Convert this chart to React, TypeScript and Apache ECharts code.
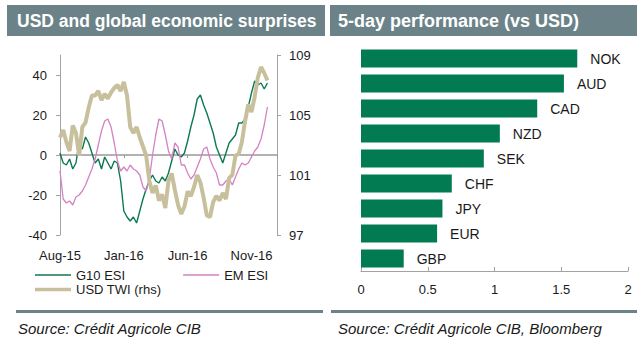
import React, { useEffect, useRef } from "react";
import * as echarts from "echarts";

const FONT = "'Liberation Sans', Arial, Helvetica, sans-serif";

// Left chart: weekly observations (0.25 month steps) starting Aug-2015
const STEP_MONTHS = 0.25;
const xTickLabels: Record<number, string> = { 0: "Aug-15", 5: "Jan-16", 10: "Jun-16", 15: "Nov-16" };

const g10Esi = [
  1, -4, -5, -2, -7, -4, 6, 3, 9, 6, 1, -4, -2, -7, -1, -4, -7, -3, -4, -13,
  -28, -31, -33, -31, -34, -28, -22, -17, -13, -10, -13, -14, -11, -13, -9, -3, 3, 0, -1, 1,
  7, 14, 20, 28, 30, 25, 21, 16, 11, 4, 0, -4, 1, 6, 8, 10, 16, 16, 18, 24,
  31, 37, 35, 36, 33, 36,
];

const emEsi = [
  -8, -22, -24, -23, -25, -21, -20, -18, -15, -11, -7, -2, 5, 12, 17, 18, 14, 6, -3, -8,
  -6, -8, -5, -7, -8, -10, -16, -18, -12, 0, 10, 18, 17, 10, 2, -2, 6, 4, -5, -5,
  -9, -12, -10, -6, -2, 3, 4, -2, -6, -9, -15, -15, -13, -12, -15, -11, -7, -4, -5, -4,
  -1, 2, 4, 8, 15, 24,
];

const usdTwi = [
  103.5, 104.0, 103.2, 102.6, 104.3, 103.8, 102.3, 104.2, 104.5, 105.5, 106.3, 106.3, 106.6, 106.0, 106.4, 106.1, 106.5, 106.8, 107.0, 106.6,
  107.2, 106.3, 104.2, 103.8, 104.2, 103.5, 102.9, 102.3, 100.6, 99.8, 100.3, 99.3, 99.7, 98.8, 100.6, 101.1, 100.0, 99.0, 98.4, 98.9,
  99.9, 99.6, 100.2, 101.0, 100.5, 99.5, 98.3, 98.2, 99.2, 99.6, 99.3, 99.8, 99.4, 100.8, 101.0, 102.3, 102.4, 103.2, 104.6, 105.7,
  105.2, 106.2, 107.5, 108.2, 107.8, 107.3,
];

// Right chart
const currencies = ["NOK", "AUD", "CAD", "NZD", "SEK", "CHF", "JPY", "EUR", "GBP"];
const perf5d = [1.62, 1.52, 1.32, 1.04, 0.92, 0.68, 0.61, 0.57, 0.32];

const toXY = (arr: number[]) => arr.map((v, i) => [i * STEP_MONTHS, v]);

const BAR_BG = "#6b8388";
const AXIS = "#a3a3a3";
const TXT = "#1a1a1a";
const GREEN = "#0b7a50";
const PINK = "#d482c4";
const TAN = "#c8c09c";

export default function App() {
  const ref = useRef<HTMLDivElement>(null);
  useEffect(() => {
    document.body.style.margin = "0";
    const chart = echarts.init(ref.current!, undefined, { renderer: "svg" });
    const option: any = {
      animation: false,
      textStyle: { fontFamily: FONT },
      graphic: [
        { type: "rect", shape: { x: 7, y: 5, width: 318, height: 31 }, style: { fill: BAR_BG } },
        { type: "rect", shape: { x: 330, y: 5, width: 307, height: 31 }, style: { fill: BAR_BG } },
        { type: "text", x: 17, y: 21, style: { text: "USD and global economic surprises", fill: "#fff", font: `bold 17.5px ${FONT}`, textVerticalAlign: "middle" } },
        { type: "text", x: 338, y: 21, style: { text: "5-day performance (vs USD)", fill: "#fff", font: `bold 18px ${FONT}`, textVerticalAlign: "middle" } },
        { type: "rect", shape: { x: 16, y: 310, width: 307, height: 3 }, style: { fill: BAR_BG } },
        { type: "rect", shape: { x: 331, y: 310, width: 306, height: 3 }, style: { fill: BAR_BG } },
        { type: "text", x: 18, y: 328, style: { text: "Source: Crédit Agricole CIB", fill: TXT, font: `italic 15px ${FONT}`, textVerticalAlign: "middle" } },
        { type: "text", x: 338, y: 328, style: { text: "Source: Crédit Agricole CIB, Bloomberg", fill: TXT, font: `italic 15px ${FONT}`, textVerticalAlign: "middle" } },
      ],
      legend: [
        {
          left: 35, top: 268.5, itemWidth: 36, itemHeight: 1.5, itemGap: 58, padding: 0,
          icon: "rect",
          textStyle: { fontSize: 13, lineHeight: 13, color: TXT, fontFamily: FONT },
          data: ["G10 ESI", "EM ESI"],
        },
        {
          left: 35, top: 283, itemWidth: 36, itemHeight: 3.5, padding: 0,
          icon: "rect",
          textStyle: { fontSize: 13, lineHeight: 13, color: TXT, fontFamily: FONT },
          data: ["USD TWI (rhs)"],
        },
      ],
      grid: [
        { left: 60, top: 55, width: 217, height: 180 },
        { left: 361, top: 46, width: 267, height: 225 },
      ],
      xAxis: [
        {
          gridIndex: 0, type: "value", min: 0, max: 17, interval: 5, position: "bottom",
          axisLine: { show: true, onZero: true, onZeroAxisIndex: 0, lineStyle: { color: "#999", width: 1.5 } },
          axisTick: { show: true, length: 3, lineStyle: { color: "#999" } },
          axisLabel: { show: false }, splitLine: { show: false },
        },
        {
          gridIndex: 0, type: "value", min: 0, max: 17, interval: 5, position: "bottom",
          axisLine: { show: false, onZero: false }, axisTick: { show: false }, splitLine: { show: false },
          axisLabel: {
            margin: 14, fontSize: 13, color: TXT, showMaxLabel: false,
            formatter: (v: number) => xTickLabels[v] ?? "",
          },
        },
        {
          gridIndex: 1, type: "value", min: 0, max: 2, interval: 0.5,
          axisLine: { show: true, lineStyle: { color: AXIS, width: 1 } },
          axisTick: { show: true, inside: true, length: 4, lineStyle: { color: AXIS } },
          axisLabel: { margin: 12, fontSize: 13, color: TXT },
          splitLine: { show: false },
        },
      ],
      yAxis: [
        {
          gridIndex: 0, type: "value", min: -40, max: 50, interval: 20, position: "left",
          axisLine: { show: true, onZero: false, lineStyle: { color: AXIS } },
          axisTick: { show: true, length: 4, lineStyle: { color: AXIS } },
          axisLabel: { margin: 13, fontSize: 13, color: TXT, showMaxLabel: false },
          splitLine: { show: false },
        },
        {
          gridIndex: 0, type: "value", min: 97, max: 109, interval: 4, position: "right",
          axisLine: { show: true, onZero: false, lineStyle: { color: AXIS } },
          axisTick: { show: true, length: 4, lineStyle: { color: AXIS } },
          axisLabel: { margin: 12, fontSize: 13, color: TXT },
          splitLine: { show: false },
        },
        {
          gridIndex: 1, type: "category", data: currencies, inverse: true, show: false,
        },
      ],
      series: [
        {
          name: "G10 ESI", type: "line", xAxisIndex: 0, yAxisIndex: 0, data: toXY(g10Esi),
          symbol: "none", lineStyle: { color: GREEN, width: 1.4 }, itemStyle: { color: GREEN }, z: 3,
        },
        {
          name: "EM ESI", type: "line", xAxisIndex: 0, yAxisIndex: 0, data: toXY(emEsi),
          symbol: "none", lineStyle: { color: PINK, width: 1.3 }, itemStyle: { color: PINK }, z: 3,
        },
        {
          name: "USD TWI (rhs)", type: "line", xAxisIndex: 0, yAxisIndex: 1, data: toXY(usdTwi),
          symbol: "none", lineStyle: { color: TAN, width: 4 }, itemStyle: { color: TAN }, z: 4,
        },
        {
          name: "5-day", type: "bar", xAxisIndex: 2, yAxisIndex: 2, data: perf5d, barWidth: 18,
          itemStyle: { color: "#027a52" },
          label: { show: true, position: "right", distance: 13, formatter: "{b}", fontSize: 14, color: TXT, fontFamily: FONT },
        },
      ],
    };
    chart.setOption(option);
    return () => chart.dispose();
  }, []);
  return <div ref={ref} style={{ width: 637, height: 337 }} />;
}
